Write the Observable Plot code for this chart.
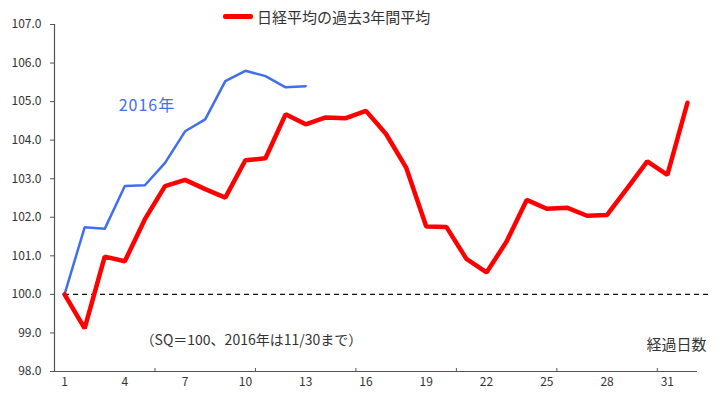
<!DOCTYPE html>
<html><head><meta charset="utf-8">
<script src="https://cdn.jsdelivr.net/npm/d3@7"></script>
<script src="https://cdn.jsdelivr.net/npm/@observablehq/plot@0.6"></script>
<style>
body{margin:0;background:#fff;}
#wrap{position:relative;width:720px;height:398px;font-family:"Noto Sans CJK JP","Noto Sans",sans-serif;}
#legend{position:absolute;left:223px;top:6px;font-size:15px;color:#333;display:flex;align-items:center;white-space:nowrap;}
#legend .sw{display:inline-block;width:30px;height:5px;background:#ff0000;margin-right:4px;border-radius:2px;}
</style>
</head><body>
<div id="wrap"><div id="legend"><span class="sw"></span><span>日経平均の過去3年間平均</span></div></div>
<script>
const days = d3.range(1, 33);
const avg3y = [100.0, 99.12, 100.98, 100.86, 101.95, 102.81, 102.97, 102.73, 102.51, 103.48,
  103.53, 104.67, 104.41, 104.59, 104.57, 104.76, 104.16, 103.29, 101.76, 101.75,
  100.92, 100.57, 101.37, 102.45, 102.22, 102.25, 102.04, 102.06, 102.75, 103.45,
  103.10, 104.97];
const y2016 = [100.0, 101.74, 101.70, 102.81, 102.83, 103.41, 104.23, 104.54, 105.53, 105.80,
  105.66, 105.37, 105.40];
const xTickLabels = [1, 4, 7, 10, 13, 16, 19, 22, 25, 28, 31];
const xTickMarks = [5.5, 10.5, 15.5, 20.5, 25.5, 30.5];
const yTicks = [98, 99, 100, 101, 102, 103, 104, 105, 106, 107];
const baseline = 100;
const baselineSpan = [1, 33.25];
const seriesLabel = [{x: 5.1, y: 104.88, text: "2016年"}];
const noteLabel = [{x: 10.3, y: 98.8, text: "（SQ＝100、2016年は11/30まで）"}];
const axisTitle = [{x: 32.95, y: 98.67, text: "経過日数"}];

const redData = days.map((d, i) => ({day: d, v: avg3y[i]}));
const blueData = y2016.map((v, i) => ({day: days[i], v}));

const chart = Plot.plot({
  width: 720, height: 398,
  marginLeft: 54, marginRight: 23, marginTop: 24, marginBottom: 27,
  style: {fontFamily: '"Noto Sans CJK JP","Noto Sans",sans-serif', fontSize: "12px", color: "#333", background: "transparent"},
  x: {domain: [0.5, 32.5]},
  y: {domain: [98, 107]},
  marks: [
    Plot.axisX({ticks: xTickLabels, tickSize: 0, tickPadding: 6, label: null, fontSize: 12}),
    Plot.axisX({ticks: xTickMarks, tickSize: 3, anchor: "bottom", text: null, label: null, stroke: "#555", dy: -3}),
    Plot.axisY({ticks: yTicks, tickFormat: d3.format(".1f"), tickSize: 4, tickPadding: 9, label: null, stroke: "#555", fontSize: 12}),
    Plot.ruleX([0.5], {stroke: "#555", strokeWidth: 1.2}),
    Plot.ruleY([98], {stroke: "#555", strokeWidth: 1.2}),
    Plot.ruleY([baseline], {x1: baselineSpan[0], x2: baselineSpan[1], stroke: "#111", strokeDasharray: "5,4", strokeWidth: 1.2, clip: false}),
    Plot.line(blueData, {x: "day", y: "v", stroke: "#3f6fef", strokeWidth: 2.5, strokeLinejoin: "miter"}),
    Plot.line(redData, {x: "day", y: "v", stroke: "#ff0000", strokeWidth: 4.5, strokeLinejoin: "miter"}),
    Plot.text(seriesLabel, {x: "x", y: "y", text: "text", fill: "#3f6fef", fontSize: 16, textAnchor: "middle"}),
    Plot.text(noteLabel, {x: "x", y: "y", text: "text", fill: "#333", fontSize: 14, textAnchor: "middle"}),
    Plot.text(axisTitle, {x: "x", y: "y", text: "text", fill: "#333", fontSize: 15, textAnchor: "end"})
  ]
});
chart.querySelectorAll("text").forEach(t => { if (t.textContent === "2016年") t.setAttribute("letter-spacing", "1"); });
document.getElementById("wrap").appendChild(chart);
</script>
</body></html>
